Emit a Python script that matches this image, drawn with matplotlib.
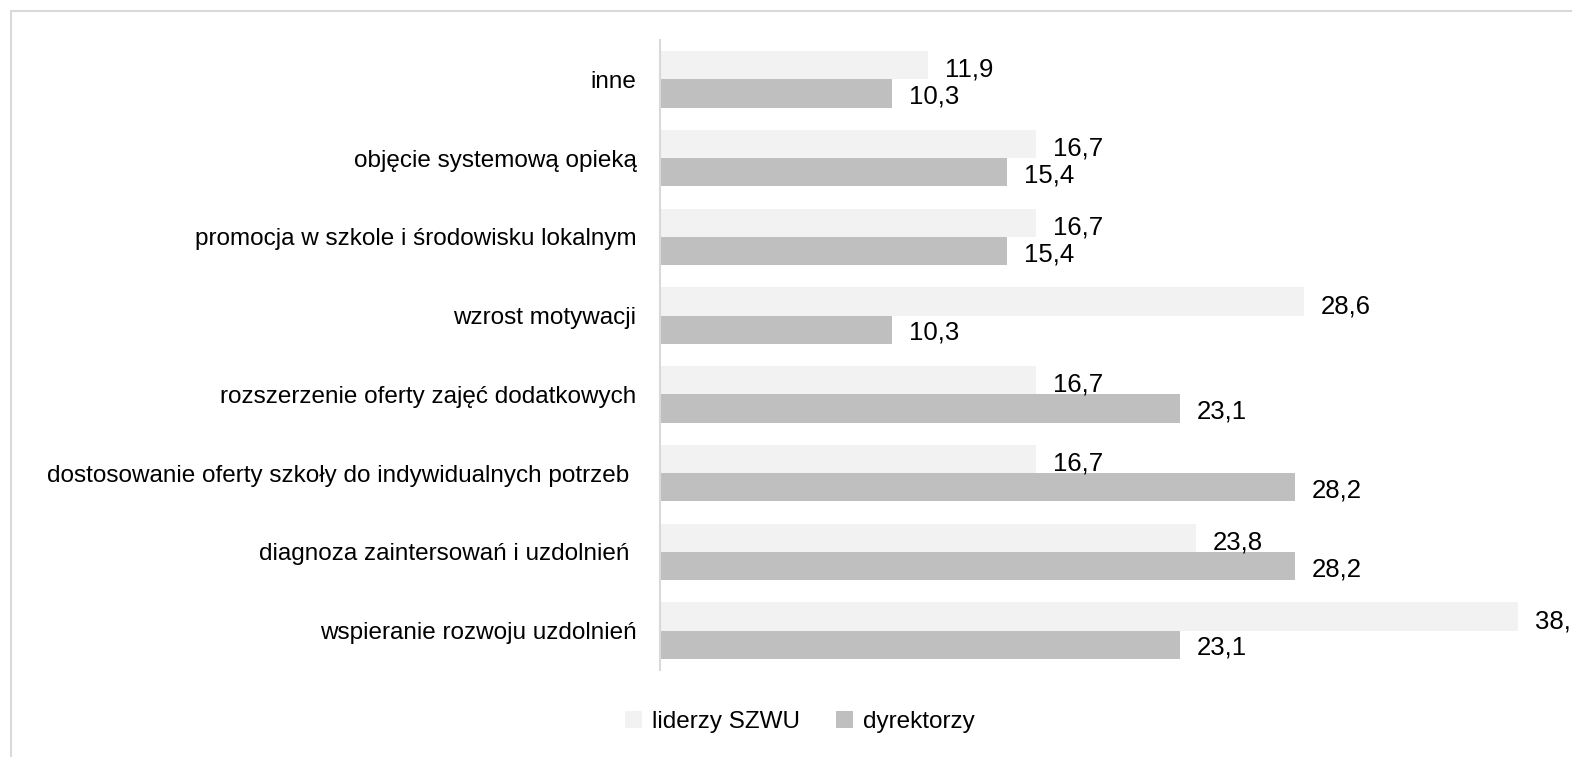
import matplotlib.pyplot as plt
from matplotlib.patches import Rectangle
import numpy as np

plt.rcParams['font.family'] = ['Liberation Sans', 'DejaVu Sans']

categories = [
    "inne",
    "objęcie systemową opieką",
    "promocja w szkole i środowisku lokalnym",
    "wzrost motywacji",
    "rozszerzenie oferty zajęć dodatkowych",
    "dostosowanie oferty szkoły do indywidualnych potrzeb ",
    "diagnoza zaintersowań i uzdolnień ",
    "wspieranie rozwoju uzdolnień",
]
liderzy = [11.9, 16.7, 16.7, 28.6, 16.7, 16.7, 23.8, 38.1]
dyrektorzy = [10.3, 15.4, 15.4, 10.3, 23.1, 28.2, 28.2, 23.1]

W, H = 1572, 757
fig = plt.figure(figsize=(W / 100, H / 100), dpi=100)

# outer frame of the chart (cropped at right and bottom)
top = 1 - 10.5 / H
fig.patches.append(Rectangle((10.5 / W, -0.5), 2.0, top + 0.5, transform=fig.transFigure,
                             fill=False, edgecolor='#d9d9d9', linewidth=1.5))

ax = fig.add_axes([660 / W, 1 - 670 / H, 900 / W, 630 / H])

y = np.arange(len(categories))
h = 0.36
ax.barh(y - h / 2, liderzy, height=h, color='#f2f2f2', label='liderzy SZWU')
ax.barh(y + h / 2, dyrektorzy, height=h, color='#bfbfbf', label='dyrektorzy')

fs = 17.5
vfs = 18.5
for i in range(len(categories)):
    ax.text(liderzy[i] + 0.75, y[i] - h / 2 + 0.06, f"{liderzy[i]:.1f}".replace('.', ','),
            va='center', ha='left', fontsize=vfs, color='#000000')
    ax.text(dyrektorzy[i] + 0.75, y[i] + h / 2 + 0.04, f"{dyrektorzy[i]:.1f}".replace('.', ','),
            va='center', ha='left', fontsize=vfs, color='#000000')

ax.set_ylim(len(categories) - 0.5, -0.5)
ax.set_xlim(0, 900 / 22.52)
ax.set_yticks(y)
ax.set_yticklabels(categories, fontsize=fs)
ax.tick_params(axis='y', length=0, pad=17)
ax.set_xticks([])
for s in ['top', 'right', 'bottom']:
    ax.spines[s].set_visible(False)
ax.spines['left'].set_color('#d9d9d9')
ax.spines['left'].set_linewidth(1.5)

fig.legend(loc='center', bbox_to_anchor=(800 / W, 1 - 722 / H), ncol=2, frameon=False,
           fontsize=fs, handlelength=0.7, handleheight=0.7, handletextpad=0.4, columnspacing=1.5)

fig.savefig('out.png', dpi=100)
